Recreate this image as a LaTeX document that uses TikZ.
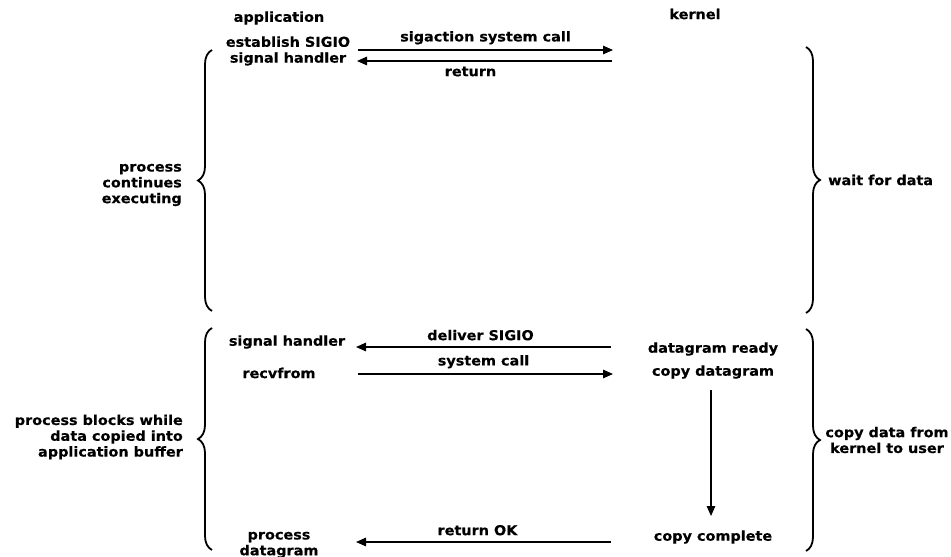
\documentclass[tikz,border=0pt]{standalone}
\usepackage{fontspec}
\newfontfamily\lbl{DejaVu Sans Bold}[FakeStretch=1.06, FakeBold=0.4]
\usetikzlibrary{arrows.meta,decorations.pathreplacing}
\begin{document}
\begin{tikzpicture}[x=1pt,y=-1pt,
  lab/.style={font={\lbl\fontsize{13.6}{15.8}\selectfont}, inner sep=0pt, align=center},
  msg/.style={line width=1.3pt, -{Triangle[length=10pt,width=8.5pt]}},
  brc/.style={line width=1.8pt, decorate, decoration={brace, amplitude=14pt}}]
  \useasboundingbox (0,0) rectangle (951,557);

  % column headings
  \node[lab] (app) at (279,18) {application};
  \node[lab] (ker) at (695,14) {kernel};

  % application side
  \node[lab] (est)  at (288,51) {establish SIGIO\\signal handler};
  \node[lab] (sigh) at (287,342) {signal handler};
  \node[lab] (recv) at (279,373) {recvfrom};
  \node[lab] (proc) at (279,545) {process\\datagram};

  % kernel side
  \node[lab] (ready) at (713,349) {datagram ready};
  \node[lab] (cpy)   at (713,372) {copy datagram};
  \node[lab] (done)  at (713,537) {copy complete};

  % arrow end points
  \coordinate (a1s) at (358,50);  \coordinate (a1e) at (613,50);
  \coordinate (a2s) at (612,61);  \coordinate (a2e) at (357,61);
  \coordinate (a3s) at (611,347); \coordinate (a3e) at (356,347);
  \coordinate (a4s) at (358,374); \coordinate (a4e) at (613,374);
  \coordinate (a5s) at (611,542); \coordinate (a5e) at (356,542);
  \coordinate (vs)  at (711,390); \coordinate (ve)  at (711,516);

  % messages
  \draw[msg] (a1s) -- node[lab, above=5pt] (l1) {sigaction system call} (a1e);
  \draw[msg] (a2s) -- node[lab, below=5pt, xshift=-14pt] (l2) {return} (a2e);
  \draw[msg] (a3s) -- node[lab, above=6pt, xshift=-3pt] (l3) {deliver SIGIO} (a3e);
  \draw[msg] (a4s) -- node[lab, above=5pt, xshift=-2pt] (l4) {system call} (a4e);
  \draw[msg] (a5s) -- node[lab, above=6pt, xshift=-6pt] (l5) {return OK} (a5e);
  \draw[msg] (vs) -- (ve);

  % braces
  \draw[brc] (212,311) -- (212,50);
  \draw[brc] (212,550) -- (212,328);
  \draw[brc] (806,47) -- (806,313);
  \draw[brc] (806,329) -- (806,551);

  % phase descriptions
  \node[lab, anchor=east, align=right] (p1) at (182,185) {process\\continues\\executing};
  \node[lab, anchor=east, align=right] (p2) at (183,437) {process blocks while\\data copied into\\application buffer};
  \node[lab, anchor=west] (k1) at (828,180) {wait for data};
  \node[lab] (k2) at (887,440) {copy data from\\kernel to user};
\end{tikzpicture}
\end{document}
